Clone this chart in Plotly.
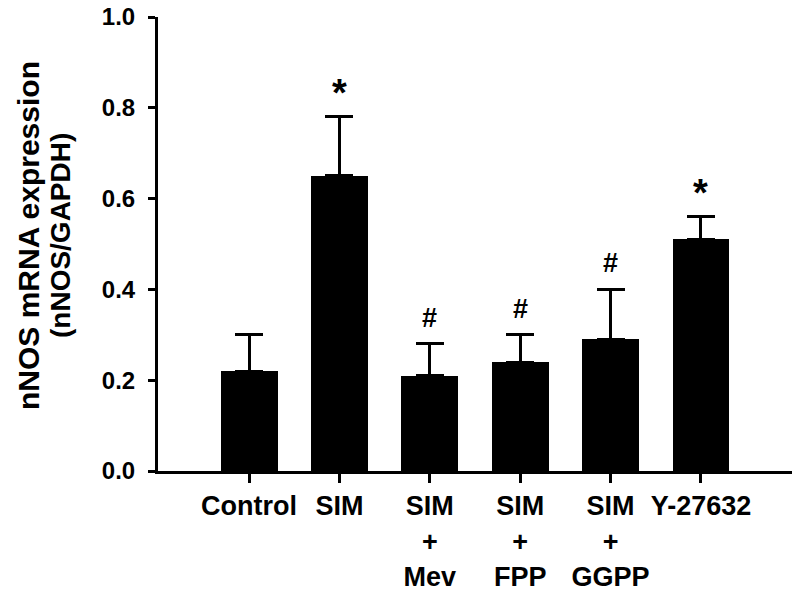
import plotly.graph_objects as go

categories = ["Control", "SIM", "SIM<br>+<br>Mev", "SIM<br>+<br>FPP", "SIM<br>+<br>GGPP", "Y-27632"]
values = [0.22, 0.65, 0.21, 0.24, 0.29, 0.51]
errors = [0.08, 0.13, 0.07, 0.06, 0.11, 0.05]
marks = ["", "*", "#", "#", "#", "*"]
y_ticks = [0.0, 0.2, 0.4, 0.6, 0.8, 1.0]
y_tick_labels = ["0.0", "0.2", "0.4", "0.6", "0.8", "1.0"]
y_title_lines = ["nNOS mRNA expression", "(nNOS/GAPDH)"]

FONT = "Liberation Sans, Arial, sans-serif"
x_idx = list(range(len(categories)))

# page has an 8px body margin; margins below compensate for it
L, R, T, B = 150, 15, 8.5, 129.5
W, H = 800, 593
PW = W - L - R
PH = H - T - B

fig = go.Figure()
fig.add_trace(go.Bar(
    x=x_idx, y=values, width=0.63,
    marker=dict(color="black", line=dict(width=0)),
    error_y=dict(type="data", array=errors, arrayminus=[0]*len(errors),
                 symmetric=False, color="black", thickness=3, width=14),
    showlegend=False,
))

for i, (v, e, m) in enumerate(zip(values, errors, marks)):
    if not m:
        continue
    fig.add_annotation(
        x=i, y=v + e, text=m, showarrow=False,
        yanchor="middle", yshift=(24 if m == "*" else 26),
        font=dict(family=FONT, size=(38 if m == "*" else 27), color="black", weight="bold"),
    )

# y-axis title (two lines), positions given in page pixels
for txt, px, size in zip(y_title_lines, [28, 60], [30, 28]):
    fig.add_annotation(
        xref="paper", yref="paper",
        x=(px - 8 - L) / PW, y=(H - B + 8 - 236) / PH,
        text=txt, textangle=-90, showarrow=False,
        xanchor="center", yanchor="middle",
        font=dict(family=FONT, size=size, color="black", weight="bold"),
    )

fig.update_layout(
    width=W, height=H,
    margin=dict(l=L, r=R, t=T, b=B),
    plot_bgcolor="white", paper_bgcolor="white",
    bargap=0,
    font=dict(family=FONT, color="black", weight="bold"),
    xaxis=dict(
        range=[-1.007, 6.018], automargin=False,
        tickmode="array", tickvals=x_idx, ticktext=categories, tickangle=0,
        tickfont=dict(family=FONT, size=27, color="black", weight="bold"),
        ticklabeloverflow="allow",
        showline=True, linecolor="black", linewidth=3,
        ticks="outside", ticklen=9, tickwidth=3, tickcolor="black",
        showgrid=False, zeroline=False,
    ),
    yaxis=dict(
        range=[0, 1.0], automargin=False,
        tickmode="array", tickvals=y_ticks, ticktext=y_tick_labels,
        tickfont=dict(family=FONT, size=24, color="black", weight="bold"),
        ticklabelstandoff=8, ticklabeloverflow="allow",
        showline=True, linecolor="black", linewidth=3,
        ticks="outside", ticklen=7, tickwidth=3, tickcolor="black",
        showgrid=False, zeroline=False,
    ),
)

fig.write_html("out.html")
